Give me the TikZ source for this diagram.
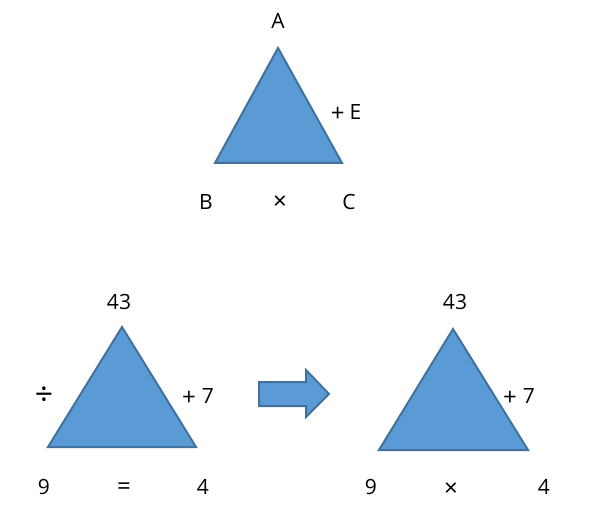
\documentclass[tikz,border=0pt]{standalone}
\usepackage{fontspec}
\setmainfont{Open Sans}
\definecolor{triFill}{HTML}{5B9BD5}
\definecolor{triLine}{HTML}{41719C}
\newcommand{\plusop}{\raisebox{-2pt}{\fontsize{24}{24}\selectfont +}}
\tikzset{
  tri/.style={fill=triFill, draw=triLine, line width=2pt, line join=miter},
  lbl/.style={font=\fontsize{21}{24}\selectfont, text=black, inner sep=0pt},
  op/.style={font=\fontsize{24}{26}\selectfont, text=black, inner sep=0pt},
}
\begin{document}
\begin{tikzpicture}[x=1pt,y=-1pt]
\useasboundingbox (0,0) rectangle (590,516);
% top triangle
\coordinate (tA) at (278,48);
\coordinate (tB) at (215,163);
\coordinate (tC) at (342,163);
\draw[tri] (tA) -- (tB) -- (tC) -- cycle;
\node[lbl] (lA) at (278,21) {A};
\node[lbl] (lE) at (346,113) {\plusop\kern5pt E};
\node[lbl] (lB) at (206,202) {B};
\node[op] (lX) at (280,203) {×};
\node[lbl] (lC) at (349,202) {C};
% bottom left triangle
\coordinate (lAp) at (122,327);
\coordinate (lBl) at (48,447);
\coordinate (lBr) at (196,447);
\draw[tri] (lAp) -- (lBl) -- (lBr) -- cycle;
\node[lbl] (l43) at (119,302) {43};
\node[op] (ldiv) at (44,396) {\fontsize{32}{32}\selectfont ÷};
\node[lbl] (lp7) at (198,397) {\plusop\kern6pt 7};
\node[lbl] (l9) at (44,487) {9};
\node[op] (leq) at (124,489) {=};
\node[lbl] (l4) at (203,487) {4};
% arrow
\draw[tri] (259,382) -- (306,382) -- (306,370) -- (329,394) -- (306,417) -- (306,406) -- (259,406) -- cycle;
% bottom right triangle
\coordinate (rAp) at (453,329);
\coordinate (rBl) at (379,450);
\coordinate (rBr) at (528,450);
\draw[tri] (rAp) -- (rBl) -- (rBr) -- cycle;
\node[lbl] (r43) at (455,302) {43};
\node[lbl] (rp7) at (519,397) {\plusop\kern6pt 7};
\node[lbl] (r9) at (371,487) {9};
\node[op] (rX) at (451,490) {×};
\node[lbl] (r4) at (544,487) {4};
\end{tikzpicture}
\end{document}
